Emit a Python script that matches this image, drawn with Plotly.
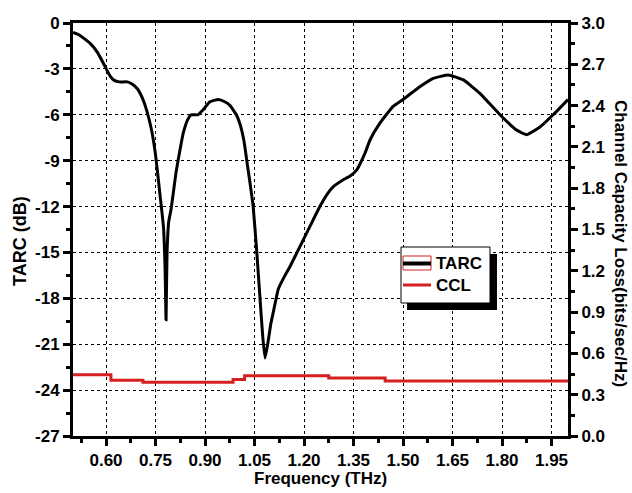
import plotly.graph_objects as go

# TARC (dB) versus frequency (THz)
tarc_freq = [0.50, 0.52, 0.552, 0.575, 0.592, 0.612, 0.625, 0.64, 0.665, 0.68,
             0.695, 0.71, 0.723, 0.738, 0.75, 0.764, 0.774, 0.779, 0.782, 0.785,
             0.79, 0.797, 0.804, 0.812, 0.82, 0.834, 0.848, 0.858, 0.878, 0.893,
             0.915, 0.94, 0.96, 0.976, 0.995, 1.006, 1.018, 1.026, 1.036, 1.046,
             1.057, 1.067, 1.075, 1.082, 1.09, 1.10, 1.107, 1.122, 1.14, 1.158,
             1.188, 1.218, 1.248, 1.27, 1.289, 1.319, 1.34, 1.36, 1.37, 1.385,
             1.40, 1.43, 1.47, 1.50, 1.552, 1.592, 1.637, 1.683, 1.733, 1.794,
             1.844, 1.875, 1.915, 1.955, 2.00]
tarc_db = [-0.62, -0.8, -1.33, -1.95, -2.63, -3.45, -3.75, -3.85, -3.85, -4.0,
           -4.3, -4.9, -5.7, -7.0, -8.6, -11.3, -13.3, -16.0, -19.4, -15.0,
           -13.0, -12.2, -11.1, -9.8, -8.8, -7.2, -6.3, -6.0, -6.0, -5.7,
           -5.15, -5.0, -5.15, -5.4, -6.0, -6.6, -7.7, -8.9, -10.4, -12.0,
           -15.0, -18.1, -20.5, -21.9, -21.0, -19.6, -18.9, -17.4, -16.6, -15.9,
           -14.6, -13.3, -12.0, -11.2, -10.7, -10.25, -10.0, -9.6, -9.2, -8.5,
           -7.65, -6.55, -5.45, -5.0, -4.15, -3.62, -3.4, -3.72, -4.6, -6.0,
           -7.0, -7.3, -6.8, -6.0, -5.0]

# Channel capacity loss (bits/sec/Hz), stepwise
ccl_freq = [0.50, 0.615, 0.712, 0.985, 1.02, 1.275, 1.446, 2.00]
ccl_val = [0.445, 0.405, 0.39, 0.41, 0.438, 0.421, 0.40, 0.40]

x_ticks = [0.60, 0.75, 0.90, 1.05, 1.20, 1.35, 1.50, 1.65, 1.80, 1.95]
y_ticks = [0, -3, -6, -9, -12, -15, -18, -21, -24, -27]
y2_ticks = [3.0, 2.7, 2.4, 2.1, 1.8, 1.5, 1.2, 0.9, 0.6, 0.3, 0.0]

FONT = "Liberation Sans, Arial, sans-serif"
RED = "#d61f1f"

W, H = 632, 493
ML, MR, MT, MB = 73, 64, 23, 57
PW, PH = W - ML - MR, H - MT - MB


def px(x):
    return (x - ML) / PW


def py(y):
    return (H - MB - y) / PH


fig = go.Figure()
fig.add_trace(go.Scatter(x=tarc_freq, y=tarc_db, mode="lines", name="TARC",
                         line=dict(color="black", width=3, shape="spline", smoothing=0.4),
                         showlegend=False))
fig.add_trace(go.Scatter(x=ccl_freq, y=ccl_val, mode="lines", name="CCL", yaxis="y2",
                         line=dict(color=RED, width=3, shape="hv"),
                         showlegend=False))


# Legend panel drawn on a hidden overlay axis pair spanning the plot area (0..1)
def box(x0, x1, y0, y1):
    return ([px(x0), px(x1), px(x1), px(x0), px(x0)],
            [py(y0), py(y0), py(y1), py(y1), py(y0)])


def seg(x0, x1, y):
    return [px(x0), px(x1)], [py(y), py(y)]


lg = dict(xaxis="x3", yaxis="y3", showlegend=False, hoverinfo="skip")
sx, sy = box(407, 497, 254, 310)
fig.add_trace(go.Scatter(x=sx, y=sy, mode="lines", fill="toself", fillcolor="black",
                         line=dict(width=0, color="black"), **lg))
bx, by = box(401, 490, 247, 303)
fig.add_trace(go.Scatter(x=bx, y=by, mode="lines", fill="toself", fillcolor="white",
                         line=dict(width=1, color="black"), **lg))
rx, ry = box(403, 431, 256, 270)
fig.add_trace(go.Scatter(x=rx, y=ry, mode="lines",
                         line=dict(width=1, color=RED), **lg))
tx, ty = seg(403, 431, 263.5)
fig.add_trace(go.Scatter(x=tx, y=ty, mode="lines",
                         line=dict(width=4, color="black"), **lg))
cx, cy = seg(403, 431, 285)
fig.add_trace(go.Scatter(x=cx, y=cy, mode="lines",
                         line=dict(width=3, color=RED), **lg))

tickfont = dict(family=FONT, size=17, color="black", weight="bold")

fig.update_layout(
    width=W, height=H,
    margin=dict(l=ML, r=MR, t=MT, b=MB),
    paper_bgcolor="white", plot_bgcolor="white",
    xaxis=dict(range=[0.5, 2.0], tickvals=x_ticks,
               ticktext=[f"{v:.2f}" for v in x_ticks],
               showline=True, linecolor="black", linewidth=3, mirror=True,
               ticks="outside", ticklen=7, tickwidth=2.5, tickcolor="black",
               minor=dict(tickvals=[v - 0.075 for v in x_ticks] + [2.025],
                          ticks="outside", ticklen=4, tickwidth=2.5, tickcolor="black"),
               showgrid=True, gridcolor="black", gridwidth=1, griddash="3px,3px",
               zeroline=False, tickfont=tickfont),
    yaxis=dict(range=[-27, 0], tickvals=y_ticks,
               ticktext=[str(v) for v in y_ticks],
               showline=True, linecolor="black", linewidth=3, mirror=False,
               ticks="outside", ticklen=7, tickwidth=2.5, tickcolor="black",
               minor=dict(tickvals=[v - 1.5 for v in y_ticks[:-1]],
                          ticks="outside", ticklen=4, tickwidth=2.5, tickcolor="black"),
               showgrid=True, gridcolor="black", gridwidth=1, griddash="3px,3px",
               zeroline=False, tickfont=tickfont),
    yaxis2=dict(range=[0, 3.0], overlaying="y", side="right", tickvals=y2_ticks,
                ticktext=[f"{v:.1f}" for v in y2_ticks],
                showline=True, linecolor="black", linewidth=3,
                ticks="outside", ticklen=7, tickwidth=2.5, tickcolor="black",
                minor=dict(tickvals=[v - 0.15 for v in y2_ticks[:-1]],
                           ticks="outside", ticklen=4, tickwidth=2.5, tickcolor="black"),
                showgrid=False, zeroline=False, tickfont=tickfont),
    xaxis3=dict(range=[0, 1], overlaying="x", visible=False, fixedrange=True),
    yaxis3=dict(range=[0, 1], overlaying="y", visible=False, fixedrange=True),
)

title_font = dict(family=FONT, size=17, color="black", weight="bold")
fig.add_annotation(text="Frequency (THz)", xref="paper", yref="paper",
                   x=0.5, y=py(478), showarrow=False, font=title_font,
                   xanchor="center", yanchor="middle")
fig.add_annotation(text="TARC (dB)", xref="paper", yref="paper",
                   x=px(20), y=py(241), showarrow=False, textangle=-90,
                   font=dict(title_font, size=18), xanchor="center", yanchor="middle")
fig.add_annotation(text="Channel Capacity Loss(bits/sec/Hz)", xref="paper", yref="paper",
                   x=px(621), y=py(243), showarrow=False, textangle=90,
                   font=dict(title_font, size=17), xanchor="center", yanchor="middle")

legend_font = dict(family=FONT, size=17, color="black", weight="bold")
fig.add_annotation(text="TARC", xref="paper", yref="paper", x=px(434), y=py(263.5),
                   showarrow=False, xanchor="left", yanchor="middle", font=legend_font)
fig.add_annotation(text="CCL", xref="paper", yref="paper", x=px(434), y=py(285),
                   showarrow=False, xanchor="left", yanchor="middle", font=legend_font)

fig.write_html("out.html")
